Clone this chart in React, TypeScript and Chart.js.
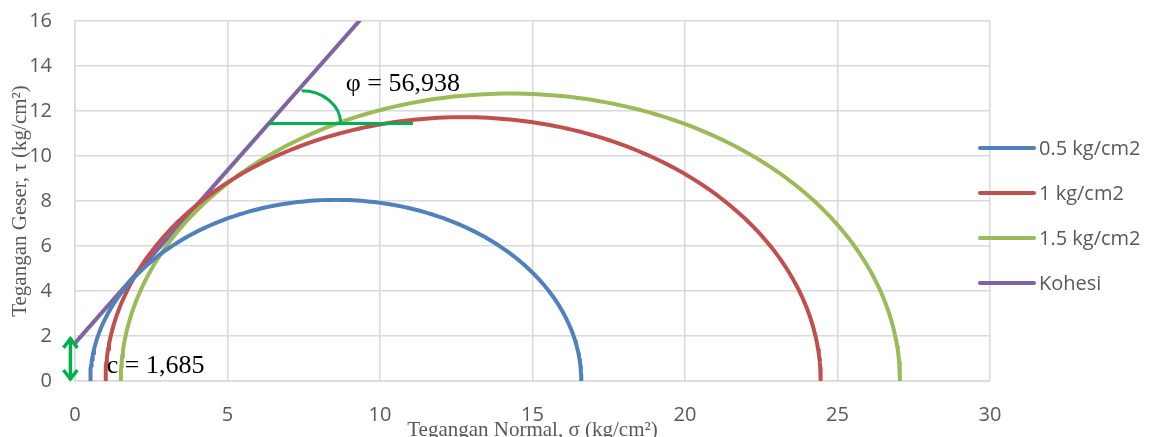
import React, { useEffect, useRef } from "react";
import { Chart, registerables } from "chart.js";

Chart.register(...registerables);

// Mohr circle data (kg/cm2): confining stress sigma3 and major principal stress sigma1
const SERIES_LABELS = ["0.5 kg/cm2", "1 kg/cm2", "1.5 kg/cm2"];
const SIGMA3 = [0.5, 1.0, 1.5];
const SIGMA1 = [16.6, 24.45, 27.05];
const SERIES_COLORS = ["#4F81BD", "#C0504D", "#9BBB59"];

// Failure envelope (Kohesi)
const KOHESI_LABEL = "Kohesi";
const KOHESI_C = 1.685;
const PHI_DEG = 56.938;
const KOHESI_X = [0, 10];
const KOHESI_COLOR = "#8064A2";

// Annotation values (data units)
const PHI_LINE_X = [6.36, 11.08];
const PHI_LINE_Y = 11.45;
const PHI_ARC = { cx: 7.43, cy: 11.45, rx: 1.28, ry: 1.45 };
const PHI_TEXT = { x: 8.88, y: 12.9, text: "φ = 56,938" };
const C_ARROW = { x: -0.15, y0: 0, y1: 1.96 };
const C_TEXT = { x: 1.04, y: 0.34, text: "c = 1,685" };

// Axes
const X_MIN = 0, X_MAX = 30, X_STEP = 5;
const Y_MIN = 0, Y_MAX = 16, Y_STEP = 2;
const X_TITLE = "Tegangan Normal, σ (kg/cm²)";
const Y_TITLE = "Tegangan Geser, τ (kg/cm²)";

const ANNOT_COLOR = "#00B050";
const TEXT_GREY = "#595959";
const GRID_GREY = "#D9D9D9";

function mohrPoints(s3: number, s1: number) {
  const c = (s1 + s3) / 2;
  const r = (s1 - s3) / 2;
  const pts: { x: number; y: number }[] = [];
  for (let i = 0; i <= 180; i++) {
    const t = (i * Math.PI) / 180;
    pts.push({ x: c - r * Math.cos(t), y: r * Math.sin(t) });
  }
  return pts;
}

const annotationPlugin = {
  id: "annotations",
  afterDatasetsDraw(chart: any) {
    const { ctx, scales } = chart;
    const xs = scales.x, ys = scales.y;
    const px = (v: number) => xs.getPixelForValue(v);
    const py = (v: number) => ys.getPixelForValue(v);
    ctx.save();
    ctx.strokeStyle = ANNOT_COLOR;
    ctx.lineWidth = 3;
    ctx.lineCap = "butt";
    // horizontal line
    ctx.beginPath();
    ctx.moveTo(px(PHI_LINE_X[0]), py(PHI_LINE_Y));
    ctx.lineTo(px(PHI_LINE_X[1]), py(PHI_LINE_Y));
    ctx.stroke();
    // arc
    const rxp = Math.abs(px(PHI_ARC.cx + PHI_ARC.rx) - px(PHI_ARC.cx));
    const ryp = Math.abs(py(PHI_ARC.cy + PHI_ARC.ry) - py(PHI_ARC.cy));
    ctx.beginPath();
    ctx.ellipse(px(PHI_ARC.cx), py(PHI_ARC.cy), rxp, ryp, 0, -Math.PI / 2, 0);
    ctx.stroke();
    // double arrow
    const ax = px(C_ARROW.x);
    const ay0 = py(C_ARROW.y0);
    const ay1 = py(C_ARROW.y1);
    ctx.lineWidth = 3.5;
    ctx.beginPath();
    ctx.moveTo(ax, ay0 - 1);
    ctx.lineTo(ax, ay1 + 1);
    ctx.stroke();
    ctx.lineJoin = "miter";
    ctx.beginPath();
    ctx.moveTo(ax - 7, ay1 + 11);
    ctx.lineTo(ax, ay1 + 2);
    ctx.lineTo(ax + 7, ay1 + 11);
    ctx.stroke();
    ctx.beginPath();
    ctx.moveTo(ax - 7, ay0 - 11);
    ctx.lineTo(ax, ay0 - 2);
    ctx.lineTo(ax + 7, ay0 - 11);
    ctx.stroke();
    // texts
    ctx.fillStyle = "#000000";
    ctx.font = "26px 'Liberation Serif', serif";
    ctx.textBaseline = "alphabetic";
    ctx.textAlign = "left";
    ctx.fillText(PHI_TEXT.text, px(PHI_TEXT.x), py(PHI_TEXT.y));
    ctx.fillText(C_TEXT.text, px(C_TEXT.x), py(C_TEXT.y));
    ctx.restore();
  },
};

const legendPlugin = {
  id: "sideLegend",
  afterDraw(chart: any) {
    const { ctx, chartArea } = chart;
    const x0 = chartArea.right - 10;
    const lineLen = 54;
    const step = 45;
    const yStart = chartArea.top + 127;
    ctx.save();
    ctx.font = "20px 'Open Sans', sans-serif";
    ctx.textBaseline = "middle";
    ctx.textAlign = "left";
    chart.data.datasets.forEach((ds: any, i: number) => {
      const y = yStart + i * step;
      ctx.strokeStyle = ds.borderColor;
      ctx.lineWidth = 4;
      ctx.lineCap = "round";
      ctx.beginPath();
      ctx.moveTo(x0, y);
      ctx.lineTo(x0 + lineLen, y);
      ctx.stroke();
      ctx.fillStyle = TEXT_GREY;
      ctx.fillText(ds.label, x0 + lineLen + 5, y + 1);
    });
    ctx.restore();
  },
};

export default function App() {
  const canvasRef = useRef<HTMLCanvasElement | null>(null);

  useEffect(() => {
    if (!canvasRef.current) return;
    const tanPhi = Math.tan((PHI_DEG * Math.PI) / 180);
    const datasets: any[] = SERIES_LABELS.map((label, i) => ({
      label,
      data: mohrPoints(SIGMA3[i], SIGMA1[i]),
      borderColor: SERIES_COLORS[i],
      backgroundColor: SERIES_COLORS[i],
      borderWidth: 4,
      showLine: true,
      pointRadius: 0,
      tension: 0,
      fill: false,
    }));
    datasets.push({
      label: KOHESI_LABEL,
      data: KOHESI_X.map((x) => ({ x, y: KOHESI_C + tanPhi * x })),
      borderColor: KOHESI_COLOR,
      backgroundColor: KOHESI_COLOR,
      borderWidth: 4,
      showLine: true,
      pointRadius: 0,
      tension: 0,
      fill: false,
      clip: 0,
    });

    const chart = new Chart(canvasRef.current, {
      type: "scatter",
      data: { datasets },
      options: {
        animation: false,
        responsive: true,
        maintainAspectRatio: false,
        layout: { padding: { left: 0, right: 163, top: 21, bottom: 0 } },
        plugins: { legend: { display: false }, tooltip: { enabled: false } },
        scales: {
          x: {
            type: "linear",
            min: X_MIN,
            max: X_MAX,
            ticks: {
              stepSize: X_STEP,
              color: TEXT_GREY,
              font: { family: "'Open Sans', sans-serif", size: 20 },
              padding: 22,
              maxRotation: 0,
            },
            grid: { color: GRID_GREY, lineWidth: 1.5, drawTicks: false },
            border: { color: GRID_GREY, width: 1.5 },
            title: {
              display: true,
              text: X_TITLE,
              color: TEXT_GREY,
              font: { family: "'Liberation Serif', serif", size: 21 },
              padding: { top: 0, bottom: -6 },
            },
            afterFit: (s: any) => {
              s.height = 56;
            },
          },
          y: {
            type: "linear",
            min: Y_MIN,
            max: Y_MAX,
            ticks: {
              stepSize: Y_STEP,
              color: TEXT_GREY,
              font: { family: "'Open Sans', sans-serif", size: 20 },
              padding: 23,
            },
            grid: { color: GRID_GREY, lineWidth: 1.5, drawTicks: false },
            border: { color: GRID_GREY, width: 1.5 },
            title: {
              display: true,
              text: Y_TITLE,
              color: TEXT_GREY,
              font: { family: "'Liberation Serif', serif", size: 21 },
              padding: { top: 8, bottom: 0 },
            },
            afterFit: (s: any) => {
              s.width = 75;
              s.paddingTop = 0;
              s.paddingBottom = 0;
            },
          },
        },
      } as any,
      plugins: [annotationPlugin, legendPlugin],
    });
    return () => chart.destroy();
  }, []);

  return (
    <div style={{ position: "absolute", left: 0, top: 0, width: 1153, height: 437, background: "#ffffff" }}>
      <canvas ref={canvasRef} style={{ display: "block" }} />
    </div>
  );
}
